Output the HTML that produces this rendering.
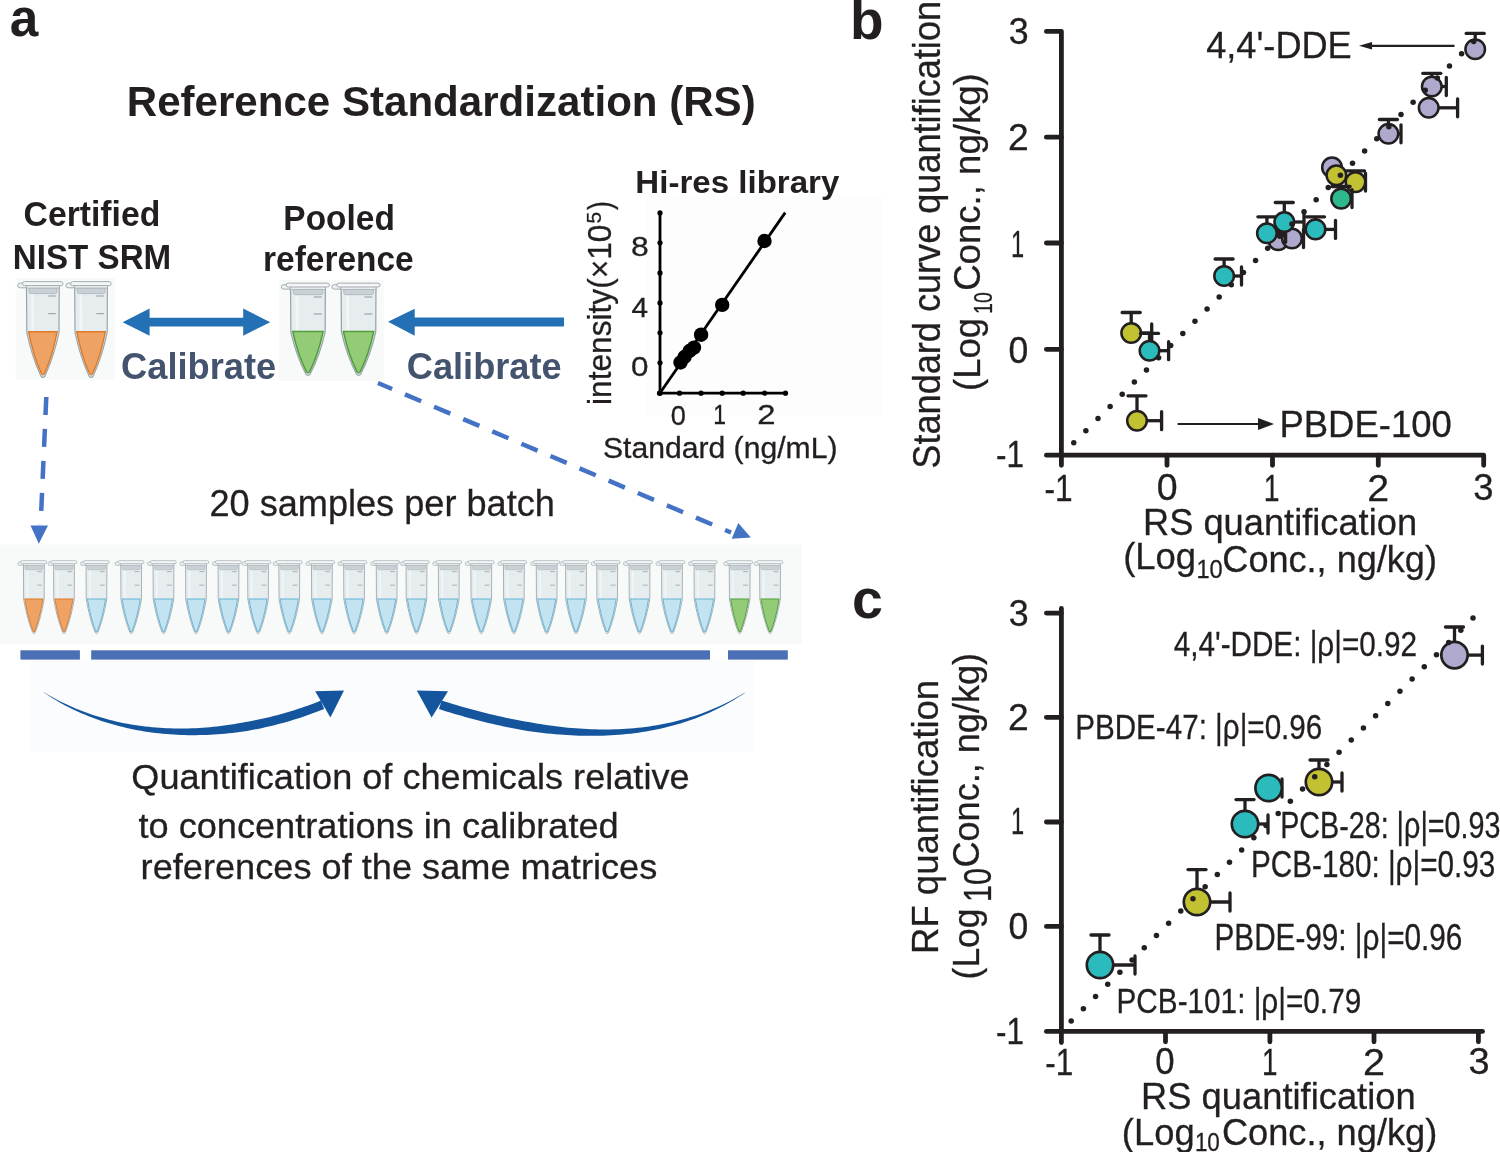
<!DOCTYPE html>
<html><head><meta charset="utf-8"><style>
html,body{margin:0;padding:0;background:#fff;}
body{width:1500px;height:1152px;overflow:hidden;}
svg{display:block;font-family:"Liberation Sans",sans-serif;font-kerning:none;will-change:transform;}
text{font-kerning:none;}
</style></head><body>
<svg width="1500" height="1152" viewBox="0 0 1500 1152">
<defs><g id="tO">
<path d="M9.3,5 L9.6,51 Q14.6,75.5 23.6,94.6 Q25.7,97.8 27.8,94.6 Q36.8,75.5 41.8,51 L42,5 Z" fill="#e7edef" stroke="#9aa5ab" stroke-width="1.2"/>
<path d="M14,12 L14.3,50 L17,50 L16.6,12Z" fill="#f1f5f6"/>
<path d="M11.4,50.6 L39.9,50.6 Q35.2,75 27.2,92.3 Q25.7,94.8 24.2,92.3 Q16.2,75 11.4,50.6 Z" fill="#eea264" stroke="#dd7a27" stroke-width="1.4"/>
<path d="M11.8,6.5 L39.7,6.5 L39.7,10.5 Q39.7,12.4 37.5,12.4 L14,12.4 Q11.8,12.4 11.8,10.5Z" fill="#c9d1d6" stroke="#a9b3b8" stroke-width="0.8"/>
<rect x="8.5" y="4" width="33.5" height="2.8" fill="#eef1f2" stroke="#a3adb2" stroke-width="0.8"/>
<rect x="0.6" y="2" width="9" height="4.6" rx="2.3" fill="#eef1f2" stroke="#9aa5ab" stroke-width="0.9"/>
<rect x="5.2" y="0.4" width="40.6" height="4" rx="2" fill="#f3f5f6" stroke="#9aa5ab" stroke-width="0.9"/>
<path d="M31,14.8 H38.6 M31,32.5 H38.6" stroke="#8d989e" stroke-width="1"/>
</g>
<g id="tG">
<path d="M9.3,5 L9.6,51 Q14.6,75.5 23.6,94.6 Q25.7,97.8 27.8,94.6 Q36.8,75.5 41.8,51 L42,5 Z" fill="#e7edef" stroke="#9aa5ab" stroke-width="1.2"/>
<path d="M14,12 L14.3,50 L17,50 L16.6,12Z" fill="#f1f5f6"/>
<path d="M11.4,50.6 L39.9,50.6 Q35.2,75 27.2,92.3 Q25.7,94.8 24.2,92.3 Q16.2,75 11.4,50.6 Z" fill="#93cb77" stroke="#4f9f3a" stroke-width="1.4"/>
<path d="M11.8,6.5 L39.7,6.5 L39.7,10.5 Q39.7,12.4 37.5,12.4 L14,12.4 Q11.8,12.4 11.8,10.5Z" fill="#c9d1d6" stroke="#a9b3b8" stroke-width="0.8"/>
<rect x="8.5" y="4" width="33.5" height="2.8" fill="#eef1f2" stroke="#a3adb2" stroke-width="0.8"/>
<rect x="0.6" y="2" width="9" height="4.6" rx="2.3" fill="#eef1f2" stroke="#9aa5ab" stroke-width="0.9"/>
<rect x="5.2" y="0.4" width="40.6" height="4" rx="2" fill="#f3f5f6" stroke="#9aa5ab" stroke-width="0.9"/>
<path d="M31,14.8 H38.6 M31,32.5 H38.6" stroke="#8d989e" stroke-width="1"/>
</g>
<g id="tB">
<path d="M9.3,5 L9.6,51 Q14.6,75.5 23.6,94.6 Q25.7,97.8 27.8,94.6 Q36.8,75.5 41.8,51 L42,5 Z" fill="#e7edef" stroke="#9aa5ab" stroke-width="1.2"/>
<path d="M14,12 L14.3,50 L17,50 L16.6,12Z" fill="#f1f5f6"/>
<path d="M11.4,50.6 L39.9,50.6 Q35.2,75 27.2,92.3 Q25.7,94.8 24.2,92.3 Q16.2,75 11.4,50.6 Z" fill="#c3e3f1" stroke="#62b6d6" stroke-width="1.4"/>
<path d="M11.8,6.5 L39.7,6.5 L39.7,10.5 Q39.7,12.4 37.5,12.4 L14,12.4 Q11.8,12.4 11.8,10.5Z" fill="#c9d1d6" stroke="#a9b3b8" stroke-width="0.8"/>
<rect x="8.5" y="4" width="33.5" height="2.8" fill="#eef1f2" stroke="#a3adb2" stroke-width="0.8"/>
<rect x="0.6" y="2" width="9" height="4.6" rx="2.3" fill="#eef1f2" stroke="#9aa5ab" stroke-width="0.9"/>
<rect x="5.2" y="0.4" width="40.6" height="4" rx="2" fill="#f3f5f6" stroke="#9aa5ab" stroke-width="0.9"/>
<path d="M31,14.8 H38.6 M31,32.5 H38.6" stroke="#8d989e" stroke-width="1"/>
</g></defs>
<rect width="1500" height="1152" fill="#fff"/>
<rect x="15.7" y="278" width="99.3" height="101.5" fill="#f8f9f9"/>
<rect x="278.8" y="280" width="105" height="101" fill="#f8f9f9"/>
<rect x="0" y="544.5" width="801.7" height="99.5" fill="#f8f9f9"/>
<rect x="30.7" y="660" width="724" height="92" fill="#fbfcfd"/>
<rect x="646.6" y="195.6" width="236" height="220" fill="#fdfdfd"/>
<text x="9.75" y="35.80" font-size="54.50" textLength="28.53" lengthAdjust="spacingAndGlyphs" font-weight="bold" fill="#231f20">a</text>
<text x="126.79" y="116.00" font-size="43.00" textLength="628.91" lengthAdjust="spacingAndGlyphs" font-weight="bold" fill="#231f20">Reference Standardization (RS)</text>
<text x="23.62" y="226.25" font-size="34.50" textLength="136.60" lengthAdjust="spacingAndGlyphs" font-weight="bold" fill="#231f20">Certified</text>
<text x="12.78" y="268.60" font-size="34.50" textLength="158.44" lengthAdjust="spacingAndGlyphs" font-weight="bold" fill="#231f20">NIST SRM</text>
<text x="283.36" y="229.50" font-size="34.20" textLength="111.54" lengthAdjust="spacingAndGlyphs" font-weight="bold" fill="#231f20">Pooled</text>
<text x="263.10" y="271.00" font-size="34.60" textLength="150.55" lengthAdjust="spacingAndGlyphs" font-weight="bold" fill="#231f20">reference</text>
<text x="121.11" y="378.80" font-size="36.50" textLength="155.13" lengthAdjust="spacingAndGlyphs" font-weight="bold" fill="#44546e">Calibrate</text>
<text x="406.82" y="378.80" font-size="36.50" textLength="154.82" lengthAdjust="spacingAndGlyphs" font-weight="bold" fill="#44546e">Calibrate</text>
<use href="#tO" transform="translate(17.20,281.20) scale(1.0000,1.0000)"/>
<use href="#tO" transform="translate(65.40,281.20) scale(1.0000,1.0000)"/>
<use href="#tG" transform="translate(280.63,282.77) scale(1.0650,0.9630)"/>
<use href="#tG" transform="translate(331.23,282.77) scale(1.0650,0.9630)"/>
<path d="M122.6,322.2 L149.6,308.6 L149.6,317.8 L243.2,317.8 L243.2,308.6 L270.2,322.2 L243.2,335.8 L243.2,326.6 L149.6,326.6 L149.6,335.8 Z" fill="#2470b5"/>
<path d="M388,321.8 L414.7,308.8 L414.7,317.4 L564,317.4 L564,326.5 L414.7,326.5 L414.7,335.7 Z" fill="#2470b5"/>
<text x="635.39" y="193.30" font-size="32.00" textLength="203.99" lengthAdjust="spacingAndGlyphs" font-weight="bold" fill="#231f20">Hi-res library</text>
<g stroke="#000" fill="#000">
<path d="M660,212.9 V393.2 H785.5" fill="none" stroke-width="2.8" stroke-linecap="round"/>
<circle cx="660" cy="212.9" r="2.6" stroke="none"/>
<circle cx="660" cy="242.8" r="2.6" stroke="none"/>
<circle cx="660" cy="272.9" r="2.6" stroke="none"/>
<circle cx="660" cy="302.9" r="2.6" stroke="none"/>
<circle cx="660" cy="332.8" r="2.6" stroke="none"/>
<circle cx="660" cy="362.8" r="2.6" stroke="none"/>
<circle cx="660" cy="393.2" r="2.6" stroke="none"/>
<circle cx="659.5" cy="393.2" r="2.6" stroke="none"/>
<circle cx="679.5" cy="393.2" r="2.6" stroke="none"/>
<circle cx="701.0" cy="393.2" r="2.6" stroke="none"/>
<circle cx="722.2" cy="393.2" r="2.6" stroke="none"/>
<circle cx="743.2" cy="393.2" r="2.6" stroke="none"/>
<circle cx="764.5" cy="393.2" r="2.6" stroke="none"/>
<circle cx="785.5" cy="393.2" r="2.6" stroke="none"/>
<path d="M660,393 L785.2,212.6" stroke-width="2.8" fill="none"/>
<circle cx="680.5" cy="362.5" r="7.2" stroke="none"/>
<circle cx="684.5" cy="357.0" r="7.2" stroke="none"/>
<circle cx="689.5" cy="351.0" r="7.2" stroke="none"/>
<circle cx="694.0" cy="347.6" r="7.2" stroke="none"/>
<circle cx="701.1" cy="334.7" r="7.2" stroke="none"/>
<circle cx="722.2" cy="304.9" r="7.2" stroke="none"/>
<circle cx="764.5" cy="241.0" r="7.2" stroke="none"/>
</g>
<text x="630.91" y="255.60" font-size="28.50" textLength="17.78" lengthAdjust="spacingAndGlyphs" fill="#231f20" stroke="#231f20" stroke-width="0.3">8</text>
<text x="631.62" y="316.60" font-size="28.50" textLength="16.56" lengthAdjust="spacingAndGlyphs" fill="#231f20" stroke="#231f20" stroke-width="0.3">4</text>
<text x="631.07" y="376.00" font-size="28.50" textLength="17.45" lengthAdjust="spacingAndGlyphs" fill="#231f20" stroke="#231f20" stroke-width="0.3">0</text>
<text x="670.74" y="424.50" font-size="28.50" textLength="15.12" lengthAdjust="spacingAndGlyphs" fill="#231f20" stroke="#231f20" stroke-width="0.3">0</text>
<text x="713.25" y="424.20" font-size="28.50" textLength="12.77" lengthAdjust="spacingAndGlyphs" fill="#231f20" stroke="#231f20" stroke-width="0.3">1</text>
<text x="757.34" y="424.20" font-size="28.50" textLength="18.31" lengthAdjust="spacingAndGlyphs" fill="#231f20" stroke="#231f20" stroke-width="0.3">2</text>
<text x="602.93" y="458.40" font-size="28.60" textLength="234.54" lengthAdjust="spacingAndGlyphs" fill="#231f20" stroke="#231f20" stroke-width="0.3">Standard (ng/mL)</text>
<g transform="translate(611.00,0) rotate(-90)">
<text x="-404.92" y="0.00" font-size="32.70" textLength="180.25" lengthAdjust="spacingAndGlyphs" fill="#231f20" stroke="#231f20" stroke-width="0.3">intensity(×10</text>
</g>
<g transform="translate(601.00,0) rotate(-90)">
<text x="-223.44" y="0.00" font-size="21.00" textLength="11.61" lengthAdjust="spacingAndGlyphs" fill="#231f20" stroke="#231f20" stroke-width="0.3">5</text>
</g>
<g transform="translate(611.00,0) rotate(-90)">
<text x="-209.95" y="0.00" font-size="32.70" textLength="8.79" lengthAdjust="spacingAndGlyphs" fill="#231f20" stroke="#231f20" stroke-width="0.3">)</text>
</g>
<path d="M46.3,397 L40.6,525" stroke="#4472c4" stroke-width="4.5" stroke-dasharray="18,14" fill="none"/>
<path d="M30.5,525.5 L48,525.5 L38.8,543.8 Z" fill="#4472c4"/>
<path d="M378,383 L731,532.5" stroke="#4472c4" stroke-width="4.5" stroke-dasharray="17.6,14" stroke-dashoffset="2.3" fill="none"/>
<path d="M750.8,537.5 L731.7,538.7 L738.3,523 Z" fill="#4472c4"/>
<text x="209.43" y="516.25" font-size="37.60" textLength="345.41" lengthAdjust="spacingAndGlyphs" fill="#231f20" stroke="#231f20" stroke-width="0.3">20 samples per batch</text>
<use href="#tO" transform="translate(17.53,560.35) scale(0.6370,0.7630)"/>
<use href="#tO" transform="translate(47.63,560.35) scale(0.6370,0.7630)"/>
<use href="#tB" transform="translate(80.13,560.35) scale(0.6370,0.7630)"/>
<use href="#tB" transform="translate(114.83,560.35) scale(0.6370,0.7630)"/>
<use href="#tB" transform="translate(147.13,560.35) scale(0.6370,0.7630)"/>
<use href="#tB" transform="translate(179.63,560.35) scale(0.6370,0.7630)"/>
<use href="#tB" transform="translate(212.13,560.35) scale(0.6370,0.7630)"/>
<use href="#tB" transform="translate(241.73,560.35) scale(0.6370,0.7630)"/>
<use href="#tB" transform="translate(272.93,560.35) scale(0.6370,0.7630)"/>
<use href="#tB" transform="translate(305.53,560.35) scale(0.6370,0.7630)"/>
<use href="#tB" transform="translate(337.73,560.35) scale(0.6370,0.7630)"/>
<use href="#tB" transform="translate(370.33,560.35) scale(0.6370,0.7630)"/>
<use href="#tB" transform="translate(400.13,560.35) scale(0.6370,0.7630)"/>
<use href="#tB" transform="translate(432.43,560.35) scale(0.6370,0.7630)"/>
<use href="#tB" transform="translate(464.93,560.35) scale(0.6370,0.7630)"/>
<use href="#tB" transform="translate(497.53,560.35) scale(0.6370,0.7630)"/>
<use href="#tB" transform="translate(530.33,560.35) scale(0.6370,0.7630)"/>
<use href="#tB" transform="translate(559.63,560.35) scale(0.6370,0.7630)"/>
<use href="#tB" transform="translate(590.83,560.35) scale(0.6370,0.7630)"/>
<use href="#tB" transform="translate(623.13,560.35) scale(0.6370,0.7630)"/>
<use href="#tB" transform="translate(655.63,560.35) scale(0.6370,0.7630)"/>
<use href="#tB" transform="translate(688.13,560.35) scale(0.6370,0.7630)"/>
<use href="#tG" transform="translate(723.33,560.35) scale(0.6370,0.7630)"/>
<use href="#tG" transform="translate(753.73,560.35) scale(0.6370,0.7630)"/>
<rect x="20.4" y="650.3" width="59.5" height="9.3" fill="#4a6fb5"/>
<rect x="91.2" y="650.3" width="618.8" height="9.3" fill="#4a6fb5"/>
<rect x="728.0" y="650.3" width="59.8" height="9.3" fill="#4a6fb5"/>
<path d="M43.82,692.53 L46.85,694.57 L49.92,696.55 L53.01,698.48 L56.13,700.35 L59.27,702.17 L62.44,703.94 L65.64,705.65 L68.86,707.32 L72.10,708.93 L75.36,710.49 L78.65,712.00 L81.96,713.46 L85.29,714.86 L88.64,716.22 L92.01,717.53 L95.40,718.79 L98.81,720.00 L102.23,721.16 L105.68,722.27 L109.14,723.33 L112.61,724.35 L116.10,725.32 L119.61,726.24 L123.13,727.11 L126.66,727.94 L130.21,728.72 L133.77,729.45 L137.34,730.14 L140.93,730.78 L144.52,731.38 L148.12,731.93 L151.74,732.44 L155.36,732.90 L158.99,733.32 L162.63,733.70 L166.27,734.03 L169.92,734.32 L173.58,734.56 L177.24,734.77 L180.91,734.93 L184.58,735.05 L188.26,735.13 L191.93,735.16 L195.61,735.16 L199.30,735.12 L202.98,735.03 L206.66,734.91 L210.35,734.74 L214.03,734.54 L217.71,734.30 L221.39,734.01 L225.07,733.70 L228.75,733.34 L232.42,732.94 L236.09,732.51 L239.75,732.04 L243.41,731.53 L247.05,730.96 L250.68,730.31 L254.31,729.62 L257.92,728.90 L261.53,728.15 L265.12,727.36 L268.71,726.53 L272.28,725.67 L275.85,724.78 L279.40,723.86 L282.93,722.90 L286.46,721.91 L289.97,720.89 L293.46,719.83 L296.94,718.75 L300.41,717.63 L303.86,716.49 L307.29,715.31 L310.70,714.10 L314.10,712.86 L317.48,711.60 L320.84,710.30 L324.16,708.98 L320.84,700.62 L317.56,701.92 L314.28,703.18 L310.98,704.42 L307.66,705.63 L304.33,706.81 L300.98,707.96 L297.61,709.08 L294.22,710.17 L290.82,711.23 L287.41,712.26 L283.98,713.26 L280.54,714.22 L277.09,715.16 L273.62,716.06 L270.14,716.93 L266.65,717.77 L263.15,718.57 L259.64,719.35 L256.12,720.08 L252.59,720.79 L249.06,721.46 L245.51,722.09 L241.97,722.73 L238.42,723.37 L234.86,723.97 L231.30,724.53 L227.73,725.06 L224.16,725.55 L220.58,726.01 L217.00,726.42 L213.41,726.81 L209.82,727.15 L206.22,727.45 L202.63,727.72 L199.03,727.95 L195.43,728.13 L191.83,728.28 L188.23,728.39 L184.63,728.46 L181.03,728.49 L177.43,728.48 L173.83,728.42 L170.24,728.33 L166.65,728.19 L163.06,728.01 L159.48,727.78 L155.90,727.52 L152.33,727.21 L148.76,726.86 L145.20,726.46 L141.65,726.02 L138.10,725.53 L134.56,725.00 L131.04,724.42 L127.51,723.80 L124.00,723.13 L120.50,722.41 L117.01,721.65 L113.53,720.84 L110.07,719.98 L106.61,719.08 L103.17,718.12 L99.74,717.12 L96.32,716.07 L92.92,714.97 L89.54,713.82 L86.17,712.61 L82.81,711.36 L79.47,710.06 L76.15,708.70 L72.85,707.30 L69.56,705.84 L66.30,704.33 L63.05,702.77 L59.82,701.15 L56.61,699.48 L53.42,697.76 L50.26,695.98 L47.11,694.15 L43.98,692.27 Z" fill="#14559e"/>
<path d="M344.00,690.40 L315.20,691.20 L330.40,717.60 Z" fill="#14559e"/>
<path d="M744.72,692.67 L741.23,694.76 L737.72,696.78 L734.20,698.74 L730.66,700.63 L727.10,702.45 L723.53,704.21 L719.94,705.89 L716.34,707.52 L712.72,709.08 L709.08,710.57 L705.43,712.01 L701.77,713.38 L698.09,714.69 L694.39,715.93 L690.69,717.12 L686.97,718.25 L683.24,719.32 L679.50,720.33 L675.75,721.29 L671.98,722.18 L668.21,723.03 L664.42,723.81 L660.63,724.55 L656.82,725.22 L653.01,725.85 L649.19,726.42 L645.36,726.95 L641.52,727.42 L637.68,727.84 L633.83,728.21 L629.97,728.53 L626.11,728.81 L622.24,729.03 L618.37,729.22 L614.49,729.35 L610.60,729.44 L606.72,729.48 L602.83,729.49 L598.93,729.44 L595.04,729.36 L591.14,729.23 L587.24,729.06 L583.34,728.86 L579.44,728.61 L575.53,728.32 L571.63,728.00 L567.73,727.63 L563.83,727.23 L559.93,726.80 L556.03,726.32 L552.14,725.82 L548.25,725.28 L544.36,724.70 L540.47,724.09 L536.59,723.45 L532.71,722.78 L528.84,722.08 L524.97,721.38 L521.09,720.69 L517.22,719.97 L513.36,719.22 L509.50,718.44 L505.65,717.64 L501.80,716.81 L497.97,715.96 L494.14,715.08 L490.32,714.17 L486.51,713.24 L482.71,712.29 L478.92,711.32 L475.14,710.33 L471.37,709.31 L467.61,708.27 L463.86,707.22 L460.13,706.14 L456.41,705.05 L452.70,703.94 L449.01,702.81 L445.33,701.67 L441.66,700.51 L438.94,709.09 L442.64,710.26 L446.36,711.42 L450.10,712.56 L453.85,713.68 L457.62,714.79 L461.40,715.87 L465.19,716.94 L469.00,717.99 L472.82,719.02 L476.65,720.03 L480.50,721.02 L484.35,721.98 L488.22,722.92 L492.10,723.84 L495.98,724.73 L499.88,725.60 L503.78,726.44 L507.69,727.26 L511.61,728.05 L515.54,728.81 L519.48,729.54 L523.42,730.24 L527.37,730.88 L531.34,731.45 L535.31,731.98 L539.28,732.49 L543.25,732.96 L547.23,733.40 L551.21,733.81 L555.19,734.18 L559.18,734.51 L563.16,734.81 L567.14,735.07 L571.13,735.30 L575.11,735.48 L579.09,735.63 L583.07,735.73 L587.04,735.80 L591.01,735.82 L594.98,735.80 L598.95,735.74 L602.91,735.64 L606.87,735.49 L610.82,735.29 L614.76,735.06 L618.70,734.77 L622.63,734.44 L626.55,734.06 L630.46,733.64 L634.37,733.16 L638.27,732.64 L642.15,732.06 L646.03,731.43 L649.90,730.76 L653.75,730.03 L657.59,729.25 L661.42,728.41 L665.24,727.52 L669.05,726.58 L672.84,725.58 L676.61,724.52 L680.37,723.41 L684.12,722.24 L687.85,721.01 L691.56,719.73 L695.25,718.38 L698.93,716.97 L702.59,715.51 L706.23,713.98 L709.85,712.39 L713.45,710.74 L717.04,709.02 L720.60,707.24 L724.14,705.40 L727.65,703.49 L731.15,701.51 L734.62,699.47 L738.06,697.36 L741.49,695.18 L744.88,692.93 Z" fill="#14559e"/>
<path d="M416.80,690.40 L448.00,691.20 L431.60,717.60 Z" fill="#14559e"/>
<text x="131.29" y="789.00" font-size="35.50" textLength="558.32" lengthAdjust="spacingAndGlyphs" fill="#231f20" stroke="#231f20" stroke-width="0.3">Quantification of chemicals relative</text>
<text x="138.45" y="838.00" font-size="35.50" textLength="480.28" lengthAdjust="spacingAndGlyphs" fill="#231f20" stroke="#231f20" stroke-width="0.3">to concentrations in calibrated</text>
<text x="140.60" y="879.00" font-size="35.50" textLength="516.71" lengthAdjust="spacingAndGlyphs" fill="#231f20" stroke="#231f20" stroke-width="0.3">references of the same matrices</text>
<g stroke="#231f20" stroke-width="4.8" stroke-linecap="round" stroke-linejoin="round" fill="none">
<path d="M1046.4,31.4 H1061.4 V465.3"/>
<path d="M1046.4,455.2 H1483.7 V465.3"/>
<path d="M1046.4,137.2 H1061.4"/>
<path d="M1046.4,243.0 H1061.4"/>
<path d="M1046.4,349.3 H1061.4"/>
<path d="M1167.0,455.2 V465.3"/>
<path d="M1272.5,455.2 V465.3"/>
<path d="M1378.3,455.2 V465.3"/>
</g>
<path d="M1475.2,49.3 V33.4" stroke="#231f20" stroke-width="3.3" fill="none"/>
<path d="M1466.2,33.4 H1484.2" stroke="#231f20" stroke-width="3.3" stroke-linecap="round" fill="none"/>
<circle cx="1475.2" cy="49.3" r="9.8" fill="#aea9cd" stroke="#231f20" stroke-width="2.5"/>
<path d="M1431.8,86.5 V73.3" stroke="#231f20" stroke-width="3.3" fill="none"/>
<path d="M1422.8,73.3 H1440.8" stroke="#231f20" stroke-width="3.3" stroke-linecap="round" fill="none"/>
<path d="M1431.8,86.5 H1446.3" stroke="#231f20" stroke-width="3.3" fill="none"/>
<path d="M1446.3,77.5 V95.5" stroke="#231f20" stroke-width="3.3" stroke-linecap="round" fill="none"/>
<circle cx="1431.8" cy="86.5" r="9.8" fill="#aea9cd" stroke="#231f20" stroke-width="2.5"/>
<path d="M1428.7,107.8 H1457.6" stroke="#231f20" stroke-width="3.3" fill="none"/>
<path d="M1457.6,98.8 V116.8" stroke="#231f20" stroke-width="3.3" stroke-linecap="round" fill="none"/>
<circle cx="1428.7" cy="107.8" r="9.8" fill="#aea9cd" stroke="#231f20" stroke-width="2.5"/>
<path d="M1388.4,133.8 V119.5" stroke="#231f20" stroke-width="3.3" fill="none"/>
<path d="M1379.4,119.5 H1397.4" stroke="#231f20" stroke-width="3.3" stroke-linecap="round" fill="none"/>
<path d="M1388.4,133.8 H1401.0" stroke="#231f20" stroke-width="3.3" fill="none"/>
<path d="M1401.0,124.8 V142.8" stroke="#231f20" stroke-width="3.3" stroke-linecap="round" fill="none"/>
<circle cx="1388.4" cy="133.8" r="9.8" fill="#aea9cd" stroke="#231f20" stroke-width="2.5"/>
<circle cx="1332.0" cy="167.4" r="9.8" fill="#aea9cd" stroke="#231f20" stroke-width="2.5"/>
<path d="M1355.5,182.1 V170.8" stroke="#231f20" stroke-width="3.3" fill="none"/>
<path d="M1346.5,170.8 H1364.5" stroke="#231f20" stroke-width="3.3" stroke-linecap="round" fill="none"/>
<path d="M1355.5,182.1 H1365.5" stroke="#231f20" stroke-width="3.3" fill="none"/>
<path d="M1365.5,173.1 V191.1" stroke="#231f20" stroke-width="3.3" stroke-linecap="round" fill="none"/>
<circle cx="1355.5" cy="182.1" r="9.8" fill="#c1c132" stroke="#231f20" stroke-width="2.5"/>
<circle cx="1336.4" cy="175.2" r="9.8" fill="#c1c132" stroke="#231f20" stroke-width="2.5"/>
<path d="M1341.1,198.6 V186.5" stroke="#231f20" stroke-width="3.3" fill="none"/>
<path d="M1332.1,186.5 H1350.1" stroke="#231f20" stroke-width="3.3" stroke-linecap="round" fill="none"/>
<path d="M1341.1,198.6 H1352.0" stroke="#231f20" stroke-width="3.3" fill="none"/>
<path d="M1352.0,189.6 V207.6" stroke="#231f20" stroke-width="3.3" stroke-linecap="round" fill="none"/>
<circle cx="1341.1" cy="198.6" r="9.8" fill="#2db88e" stroke="#231f20" stroke-width="2.5"/>
<circle cx="1278.2" cy="240.3" r="9.8" fill="#aea9cd" stroke="#231f20" stroke-width="2.5"/>
<path d="M1292.0,238.5 H1303.5" stroke="#231f20" stroke-width="3.3" fill="none"/>
<path d="M1303.5,229.5 V247.5" stroke="#231f20" stroke-width="3.3" stroke-linecap="round" fill="none"/>
<circle cx="1292.0" cy="238.5" r="9.8" fill="#aea9cd" stroke="#231f20" stroke-width="2.5"/>
<path d="M1266.9,233.3 V216.8" stroke="#231f20" stroke-width="3.3" fill="none"/>
<path d="M1257.9,216.8 H1275.9" stroke="#231f20" stroke-width="3.3" stroke-linecap="round" fill="none"/>
<path d="M1266.9,233.3 H1285.6" stroke="#231f20" stroke-width="3.3" fill="none"/>
<path d="M1285.6,224.3 V242.3" stroke="#231f20" stroke-width="3.3" stroke-linecap="round" fill="none"/>
<circle cx="1266.9" cy="233.3" r="9.8" fill="#2bbbbd" stroke="#231f20" stroke-width="2.5"/>
<path d="M1284.3,222.0 V202.5" stroke="#231f20" stroke-width="3.3" fill="none"/>
<path d="M1275.3,202.5 H1293.3" stroke="#231f20" stroke-width="3.3" stroke-linecap="round" fill="none"/>
<path d="M1284.3,222.0 H1304.0" stroke="#231f20" stroke-width="3.3" fill="none"/>
<path d="M1304.0,213.0 V231.0" stroke="#231f20" stroke-width="3.3" stroke-linecap="round" fill="none"/>
<circle cx="1284.3" cy="222.0" r="9.8" fill="#2bbbbd" stroke="#231f20" stroke-width="2.5"/>
<path d="M1315.5,229.4 V216.8" stroke="#231f20" stroke-width="3.3" fill="none"/>
<path d="M1306.5,216.8 H1324.5" stroke="#231f20" stroke-width="3.3" stroke-linecap="round" fill="none"/>
<path d="M1315.5,229.4 H1335.5" stroke="#231f20" stroke-width="3.3" fill="none"/>
<path d="M1335.5,220.4 V238.4" stroke="#231f20" stroke-width="3.3" stroke-linecap="round" fill="none"/>
<circle cx="1315.5" cy="229.4" r="9.8" fill="#2bbbbd" stroke="#231f20" stroke-width="2.5"/>
<path d="M1224.1,276.0 V259.0" stroke="#231f20" stroke-width="3.3" fill="none"/>
<path d="M1215.1,259.0 H1233.1" stroke="#231f20" stroke-width="3.3" stroke-linecap="round" fill="none"/>
<path d="M1224.1,276.0 H1241.5" stroke="#231f20" stroke-width="3.3" fill="none"/>
<path d="M1241.5,267.0 V285.0" stroke="#231f20" stroke-width="3.3" stroke-linecap="round" fill="none"/>
<circle cx="1224.1" cy="276.0" r="9.8" fill="#2bbbbd" stroke="#231f20" stroke-width="2.5"/>
<path d="M1131.2,333.0 V312.5" stroke="#231f20" stroke-width="3.3" fill="none"/>
<path d="M1122.2,312.5 H1140.2" stroke="#231f20" stroke-width="3.3" stroke-linecap="round" fill="none"/>
<path d="M1131.2,333.0 H1151.7" stroke="#231f20" stroke-width="3.3" fill="none"/>
<path d="M1151.7,324.0 V342.0" stroke="#231f20" stroke-width="3.3" stroke-linecap="round" fill="none"/>
<circle cx="1131.2" cy="333.0" r="9.8" fill="#c1c132" stroke="#231f20" stroke-width="2.5"/>
<path d="M1149.5,350.7 V333.4" stroke="#231f20" stroke-width="3.3" fill="none"/>
<path d="M1140.5,333.4 H1158.5" stroke="#231f20" stroke-width="3.3" stroke-linecap="round" fill="none"/>
<path d="M1149.5,350.7 H1168.6" stroke="#231f20" stroke-width="3.3" fill="none"/>
<path d="M1168.6,341.7 V359.7" stroke="#231f20" stroke-width="3.3" stroke-linecap="round" fill="none"/>
<circle cx="1149.5" cy="350.7" r="9.8" fill="#2bbbbd" stroke="#231f20" stroke-width="2.5"/>
<path d="M1137.0,420.7 V395.8" stroke="#231f20" stroke-width="3.3" fill="none"/>
<path d="M1128.0,395.8 H1146.0" stroke="#231f20" stroke-width="3.3" stroke-linecap="round" fill="none"/>
<path d="M1137.0,420.7 H1161.6" stroke="#231f20" stroke-width="3.3" fill="none"/>
<path d="M1161.6,411.7 V429.7" stroke="#231f20" stroke-width="3.3" stroke-linecap="round" fill="none"/>
<circle cx="1137.0" cy="420.7" r="9.8" fill="#c1c132" stroke="#231f20" stroke-width="2.5"/>
<circle cx="1073.75" cy="442.86" r="2.75" fill="#231f20"/>
<circle cx="1085.87" cy="430.70" r="2.75" fill="#231f20"/>
<circle cx="1097.99" cy="418.54" r="2.75" fill="#231f20"/>
<circle cx="1110.11" cy="406.38" r="2.75" fill="#231f20"/>
<circle cx="1122.23" cy="394.22" r="2.75" fill="#231f20"/>
<circle cx="1134.35" cy="382.06" r="2.75" fill="#231f20"/>
<circle cx="1146.47" cy="369.90" r="2.75" fill="#231f20"/>
<circle cx="1158.59" cy="357.74" r="2.75" fill="#231f20"/>
<circle cx="1170.71" cy="345.58" r="2.75" fill="#231f20"/>
<circle cx="1182.83" cy="333.42" r="2.75" fill="#231f20"/>
<circle cx="1194.95" cy="321.26" r="2.75" fill="#231f20"/>
<circle cx="1207.07" cy="309.10" r="2.75" fill="#231f20"/>
<circle cx="1219.19" cy="296.94" r="2.75" fill="#231f20"/>
<circle cx="1231.31" cy="284.78" r="2.75" fill="#231f20"/>
<circle cx="1243.43" cy="272.62" r="2.75" fill="#231f20"/>
<circle cx="1255.55" cy="260.46" r="2.75" fill="#231f20"/>
<circle cx="1267.67" cy="248.30" r="2.75" fill="#231f20"/>
<circle cx="1279.79" cy="236.14" r="2.75" fill="#231f20"/>
<circle cx="1291.91" cy="223.98" r="2.75" fill="#231f20"/>
<circle cx="1304.03" cy="211.82" r="2.75" fill="#231f20"/>
<circle cx="1316.15" cy="199.66" r="2.75" fill="#231f20"/>
<circle cx="1328.27" cy="187.50" r="2.75" fill="#231f20"/>
<circle cx="1340.39" cy="175.34" r="2.75" fill="#231f20"/>
<circle cx="1352.51" cy="163.18" r="2.75" fill="#231f20"/>
<circle cx="1364.63" cy="151.01" r="2.75" fill="#231f20"/>
<circle cx="1376.75" cy="138.85" r="2.75" fill="#231f20"/>
<circle cx="1388.87" cy="126.69" r="2.75" fill="#231f20"/>
<circle cx="1400.99" cy="114.53" r="2.75" fill="#231f20"/>
<circle cx="1413.11" cy="102.37" r="2.75" fill="#231f20"/>
<circle cx="1425.23" cy="90.21" r="2.75" fill="#231f20"/>
<circle cx="1437.35" cy="78.05" r="2.75" fill="#231f20"/>
<circle cx="1449.47" cy="65.89" r="2.75" fill="#231f20"/>
<circle cx="1461.59" cy="53.73" r="2.75" fill="#231f20"/>
<circle cx="1473.71" cy="41.57" r="2.75" fill="#231f20"/>
<path d="M1454.5,45.8 H1366" stroke="#231f20" stroke-width="2.2"/>
<path d="M1359,45.8 L1372,42 L1372,49.6 Z" fill="#231f20"/>
<text x="1206.17" y="57.80" font-size="37.50" textLength="145.58" lengthAdjust="spacingAndGlyphs" fill="#231f20" stroke="#231f20" stroke-width="0.3">4,4'-DDE</text>
<path d="M1177.6,424 H1262" stroke="#231f20" stroke-width="2.2"/>
<path d="M1274,424 L1258,418 L1258,430 Z" fill="#231f20"/>
<text x="1279.41" y="437.00" font-size="37.80" textLength="172.42" lengthAdjust="spacingAndGlyphs" fill="#231f20" stroke="#231f20" stroke-width="0.3">PBDE-100</text>
<text x="849.88" y="38.60" font-size="56.00" textLength="33.58" lengthAdjust="spacingAndGlyphs" font-weight="bold" fill="#231f20">b</text>
<text x="1008.63" y="44.00" font-size="37.50" textLength="19.94" lengthAdjust="spacingAndGlyphs" fill="#231f20" stroke="#231f20" stroke-width="0.3">3</text>
<text x="1008.12" y="150.00" font-size="37.50" textLength="20.75" lengthAdjust="spacingAndGlyphs" fill="#231f20" stroke="#231f20" stroke-width="0.3">2</text>
<text x="1011.00" y="256.50" font-size="37.50" textLength="13.16" lengthAdjust="spacingAndGlyphs" fill="#231f20" stroke="#231f20" stroke-width="0.3">1</text>
<text x="1008.61" y="362.50" font-size="37.50" textLength="19.78" lengthAdjust="spacingAndGlyphs" fill="#231f20" stroke="#231f20" stroke-width="0.3">0</text>
<text x="996.10" y="467.20" font-size="37.50" textLength="27.93" lengthAdjust="spacingAndGlyphs" fill="#231f20" stroke="#231f20" stroke-width="0.3">-1</text>
<text x="1044.59" y="500.80" font-size="37.50" textLength="28.15" lengthAdjust="spacingAndGlyphs" fill="#231f20" stroke="#231f20" stroke-width="0.3">-1</text>
<text x="1156.64" y="500.00" font-size="37.50" textLength="20.83" lengthAdjust="spacingAndGlyphs" fill="#231f20" stroke="#231f20" stroke-width="0.3">0</text>
<text x="1263.74" y="500.60" font-size="37.50" textLength="15.74" lengthAdjust="spacingAndGlyphs" fill="#231f20" stroke="#231f20" stroke-width="0.3">1</text>
<text x="1367.32" y="500.60" font-size="37.50" textLength="21.85" lengthAdjust="spacingAndGlyphs" fill="#231f20" stroke="#231f20" stroke-width="0.3">2</text>
<text x="1473.31" y="500.00" font-size="37.50" textLength="20.29" lengthAdjust="spacingAndGlyphs" fill="#231f20" stroke="#231f20" stroke-width="0.3">3</text>
<text x="1143.03" y="534.50" font-size="37.80" textLength="274.03" lengthAdjust="spacingAndGlyphs" fill="#231f20" stroke="#231f20" stroke-width="0.3">RS quantification</text>
<text x="1123.14" y="569.00" font-size="37.50" textLength="73.01" lengthAdjust="spacingAndGlyphs" fill="#231f20" stroke="#231f20" stroke-width="0.3">(Log</text>
<text x="1196.40" y="578.00" font-size="25.80" textLength="26.33" lengthAdjust="spacingAndGlyphs" fill="#231f20" stroke="#231f20" stroke-width="0.3">10</text>
<text x="1222.37" y="572.20" font-size="37.80" textLength="214.57" lengthAdjust="spacingAndGlyphs" fill="#231f20" stroke="#231f20" stroke-width="0.3">Conc., ng/kg)</text>
<g transform="translate(939.60,0) rotate(-90)">
<text x="-468.64" y="0.00" font-size="38.80" textLength="467.68" lengthAdjust="spacingAndGlyphs" fill="#231f20" stroke="#231f20" stroke-width="0.3">Standard curve quantification</text>
</g>
<g transform="translate(979.90,0) rotate(-90)">
<text x="-390.96" y="0.00" font-size="37.50" textLength="73.01" lengthAdjust="spacingAndGlyphs" fill="#231f20" stroke="#231f20" stroke-width="0.3">(Log</text>
</g>
<g transform="translate(991.90,0) rotate(-90)">
<text x="-313.99" y="0.00" font-size="25.80" textLength="21.75" lengthAdjust="spacingAndGlyphs" fill="#231f20" stroke="#231f20" stroke-width="0.3">10</text>
</g>
<g transform="translate(979.90,0) rotate(-90)">
<text x="-290.86" y="0.00" font-size="37.50" textLength="217.63" lengthAdjust="spacingAndGlyphs" fill="#231f20" stroke="#231f20" stroke-width="0.3">Conc., ng/kg)</text>
</g>
<g stroke="#231f20" stroke-width="4.8" stroke-linecap="round" stroke-linejoin="round" fill="none">
<path d="M1061.4,608.4 V1042.6"/>
<path d="M1046.4,1031.4 H1482.5"/>
<path d="M1046.4,613.1 H1061.4"/>
<path d="M1046.4,717.3 H1061.4"/>
<path d="M1046.4,822.0 H1061.4"/>
<path d="M1046.4,926.4 H1061.4"/>
<path d="M1165.5,1031.4 V1041.8"/>
<path d="M1269.9,1031.4 V1041.8"/>
<path d="M1374.0,1031.4 V1041.8"/>
<path d="M1478.4,1031.4 V1041.8"/>
</g>
<path d="M1454.5,655.1 V627.0" stroke="#231f20" stroke-width="3.3" fill="none"/>
<path d="M1445.5,627.0 H1463.5" stroke="#231f20" stroke-width="3.3" stroke-linecap="round" fill="none"/>
<path d="M1454.5,655.1 H1482.4" stroke="#231f20" stroke-width="3.3" fill="none"/>
<path d="M1482.4,646.1 V664.1" stroke="#231f20" stroke-width="3.3" stroke-linecap="round" fill="none"/>
<circle cx="1454.5" cy="655.1" r="13.2" fill="#aea9cd" stroke="#231f20" stroke-width="2.7"/>
<path d="M1319.0,782.0 V760.0" stroke="#231f20" stroke-width="3.3" fill="none"/>
<path d="M1310.0,760.0 H1328.0" stroke="#231f20" stroke-width="3.3" stroke-linecap="round" fill="none"/>
<path d="M1319.0,782.0 H1342.0" stroke="#231f20" stroke-width="3.3" fill="none"/>
<path d="M1342.0,773.0 V791.0" stroke="#231f20" stroke-width="3.3" stroke-linecap="round" fill="none"/>
<circle cx="1319.0" cy="782.0" r="13.2" fill="#c1c132" stroke="#231f20" stroke-width="2.7"/>
<path d="M1268.6,788.0 H1282.0" stroke="#231f20" stroke-width="3.3" fill="none"/>
<path d="M1282.0,779.0 V797.0" stroke="#231f20" stroke-width="3.3" stroke-linecap="round" fill="none"/>
<circle cx="1268.6" cy="788.0" r="13.2" fill="#2bbbbd" stroke="#231f20" stroke-width="2.7"/>
<path d="M1245.0,824.0 V799.6" stroke="#231f20" stroke-width="3.3" fill="none"/>
<path d="M1236.0,799.6 H1254.0" stroke="#231f20" stroke-width="3.3" stroke-linecap="round" fill="none"/>
<path d="M1245.0,824.0 H1268.0" stroke="#231f20" stroke-width="3.3" fill="none"/>
<path d="M1268.0,815.0 V833.0" stroke="#231f20" stroke-width="3.3" stroke-linecap="round" fill="none"/>
<circle cx="1245.0" cy="824.0" r="13.2" fill="#2bbbbd" stroke="#231f20" stroke-width="2.7"/>
<path d="M1197.0,902.0 V869.6" stroke="#231f20" stroke-width="3.3" fill="none"/>
<path d="M1188.0,869.6 H1206.0" stroke="#231f20" stroke-width="3.3" stroke-linecap="round" fill="none"/>
<path d="M1197.0,902.0 H1230.0" stroke="#231f20" stroke-width="3.3" fill="none"/>
<path d="M1230.0,893.0 V911.0" stroke="#231f20" stroke-width="3.3" stroke-linecap="round" fill="none"/>
<circle cx="1197.0" cy="902.0" r="13.2" fill="#c1c132" stroke="#231f20" stroke-width="2.7"/>
<path d="M1100.0,965.0 V935.0" stroke="#231f20" stroke-width="3.3" fill="none"/>
<path d="M1091.0,935.0 H1109.0" stroke="#231f20" stroke-width="3.3" stroke-linecap="round" fill="none"/>
<path d="M1100.0,965.0 H1135.0" stroke="#231f20" stroke-width="3.3" fill="none"/>
<path d="M1135.0,956.0 V974.0" stroke="#231f20" stroke-width="3.3" stroke-linecap="round" fill="none"/>
<circle cx="1100.0" cy="965.0" r="13.2" fill="#2bbbbd" stroke="#231f20" stroke-width="2.7"/>
<circle cx="1071.20" cy="1020.97" r="2.75" fill="#231f20"/>
<circle cx="1083.38" cy="1008.76" r="2.75" fill="#231f20"/>
<circle cx="1095.55" cy="996.55" r="2.75" fill="#231f20"/>
<circle cx="1107.73" cy="984.34" r="2.75" fill="#231f20"/>
<circle cx="1119.90" cy="972.13" r="2.75" fill="#231f20"/>
<circle cx="1132.08" cy="959.92" r="2.75" fill="#231f20"/>
<circle cx="1144.26" cy="947.71" r="2.75" fill="#231f20"/>
<circle cx="1156.43" cy="935.49" r="2.75" fill="#231f20"/>
<circle cx="1168.61" cy="923.28" r="2.75" fill="#231f20"/>
<circle cx="1180.78" cy="911.07" r="2.75" fill="#231f20"/>
<circle cx="1192.96" cy="898.86" r="2.75" fill="#231f20"/>
<circle cx="1205.14" cy="886.65" r="2.75" fill="#231f20"/>
<circle cx="1217.31" cy="874.44" r="2.75" fill="#231f20"/>
<circle cx="1229.49" cy="862.23" r="2.75" fill="#231f20"/>
<circle cx="1241.66" cy="850.02" r="2.75" fill="#231f20"/>
<circle cx="1253.84" cy="837.81" r="2.75" fill="#231f20"/>
<circle cx="1266.02" cy="825.59" r="2.75" fill="#231f20"/>
<circle cx="1278.19" cy="813.38" r="2.75" fill="#231f20"/>
<circle cx="1290.37" cy="801.17" r="2.75" fill="#231f20"/>
<circle cx="1302.54" cy="788.96" r="2.75" fill="#231f20"/>
<circle cx="1314.72" cy="776.75" r="2.75" fill="#231f20"/>
<circle cx="1326.90" cy="764.54" r="2.75" fill="#231f20"/>
<circle cx="1339.07" cy="752.33" r="2.75" fill="#231f20"/>
<circle cx="1351.25" cy="740.12" r="2.75" fill="#231f20"/>
<circle cx="1363.42" cy="727.91" r="2.75" fill="#231f20"/>
<circle cx="1375.60" cy="715.70" r="2.75" fill="#231f20"/>
<circle cx="1387.78" cy="703.48" r="2.75" fill="#231f20"/>
<circle cx="1399.95" cy="691.27" r="2.75" fill="#231f20"/>
<circle cx="1412.13" cy="679.06" r="2.75" fill="#231f20"/>
<circle cx="1424.30" cy="666.85" r="2.75" fill="#231f20"/>
<circle cx="1436.48" cy="654.64" r="2.75" fill="#231f20"/>
<circle cx="1448.66" cy="642.43" r="2.75" fill="#231f20"/>
<circle cx="1460.83" cy="630.22" r="2.75" fill="#231f20"/>
<circle cx="1473.01" cy="618.01" r="2.75" fill="#231f20"/>
<text x="852.03" y="618.00" font-size="55.50" textLength="30.90" lengthAdjust="spacingAndGlyphs" font-weight="bold" fill="#231f20">c</text>
<text x="1008.63" y="625.50" font-size="37.50" textLength="19.94" lengthAdjust="spacingAndGlyphs" fill="#231f20" stroke="#231f20" stroke-width="0.3">3</text>
<text x="1008.12" y="730.00" font-size="37.50" textLength="20.75" lengthAdjust="spacingAndGlyphs" fill="#231f20" stroke="#231f20" stroke-width="0.3">2</text>
<text x="1011.00" y="834.00" font-size="37.50" textLength="13.16" lengthAdjust="spacingAndGlyphs" fill="#231f20" stroke="#231f20" stroke-width="0.3">1</text>
<text x="1008.61" y="939.00" font-size="37.50" textLength="19.78" lengthAdjust="spacingAndGlyphs" fill="#231f20" stroke="#231f20" stroke-width="0.3">0</text>
<text x="996.10" y="1043.50" font-size="37.50" textLength="27.93" lengthAdjust="spacingAndGlyphs" fill="#231f20" stroke="#231f20" stroke-width="0.3">-1</text>
<text x="1045.30" y="1074.50" font-size="37.50" textLength="27.93" lengthAdjust="spacingAndGlyphs" fill="#231f20" stroke="#231f20" stroke-width="0.3">-1</text>
<text x="1155.34" y="1074.00" font-size="37.50" textLength="19.31" lengthAdjust="spacingAndGlyphs" fill="#231f20" stroke="#231f20" stroke-width="0.3">0</text>
<text x="1261.88" y="1074.50" font-size="37.50" textLength="15.48" lengthAdjust="spacingAndGlyphs" fill="#231f20" stroke="#231f20" stroke-width="0.3">1</text>
<text x="1363.01" y="1074.50" font-size="37.50" textLength="21.97" lengthAdjust="spacingAndGlyphs" fill="#231f20" stroke="#231f20" stroke-width="0.3">2</text>
<text x="1468.55" y="1074.00" font-size="37.50" textLength="21.11" lengthAdjust="spacingAndGlyphs" fill="#231f20" stroke="#231f20" stroke-width="0.3">3</text>
<text x="1141.02" y="1109.00" font-size="37.80" textLength="274.64" lengthAdjust="spacingAndGlyphs" fill="#231f20" stroke="#231f20" stroke-width="0.3">RS quantification</text>
<text x="1121.84" y="1144.50" font-size="37.50" textLength="72.80" lengthAdjust="spacingAndGlyphs" fill="#231f20" stroke="#231f20" stroke-width="0.3">(Log</text>
<text x="1194.89" y="1151.20" font-size="25.20" textLength="24.99" lengthAdjust="spacingAndGlyphs" fill="#231f20" stroke="#231f20" stroke-width="0.3">10</text>
<text x="1221.96" y="1144.60" font-size="37.80" textLength="215.28" lengthAdjust="spacingAndGlyphs" fill="#231f20" stroke="#231f20" stroke-width="0.3">Conc., ng/kg)</text>
<g transform="translate(938.30,0) rotate(-90)">
<text x="-954.00" y="0.00" font-size="37.50" textLength="274.17" lengthAdjust="spacingAndGlyphs" fill="#231f20" stroke="#231f20" stroke-width="0.3">RF quantification</text>
</g>
<g transform="translate(978.90,0) rotate(-90)">
<text x="-979.40" y="0.00" font-size="37.50" textLength="70.88" lengthAdjust="spacingAndGlyphs" fill="#231f20" stroke="#231f20" stroke-width="0.3">(Log</text>
</g>
<g transform="translate(990.70,0) rotate(-90)">
<text x="-902.01" y="0.00" font-size="38.00" textLength="33.80" lengthAdjust="spacingAndGlyphs" fill="#231f20" stroke="#231f20" stroke-width="0.3">10</text>
</g>
<g transform="translate(978.90,0) rotate(-90)">
<text x="-867.53" y="0.00" font-size="37.50" textLength="214.57" lengthAdjust="spacingAndGlyphs" fill="#231f20" stroke="#231f20" stroke-width="0.3">Conc., ng/kg)</text>
</g>
<text x="1173.72" y="655.70" font-size="34.50" textLength="243.27" lengthAdjust="spacingAndGlyphs" fill="#231f20" stroke="#231f20" stroke-width="0.3">4,4'-DDE: |ρ|=0.92</text>
<text x="1075.17" y="738.50" font-size="34.50" textLength="247.13" lengthAdjust="spacingAndGlyphs" fill="#231f20" stroke="#231f20" stroke-width="0.3">PBDE-47: |ρ|=0.96</text>
<text x="1280.15" y="837.80" font-size="36.00" textLength="220.32" lengthAdjust="spacingAndGlyphs" fill="#231f20" stroke="#231f20" stroke-width="0.3">PCB-28: |ρ|=0.93</text>
<text x="1250.97" y="877.30" font-size="36.00" textLength="244.34" lengthAdjust="spacingAndGlyphs" fill="#231f20" stroke="#231f20" stroke-width="0.3">PCB-180: |ρ|=0.93</text>
<text x="1214.56" y="950.00" font-size="36.00" textLength="247.74" lengthAdjust="spacingAndGlyphs" fill="#231f20" stroke="#231f20" stroke-width="0.3">PBDE-99: |ρ|=0.96</text>
<text x="1116.56" y="1013.30" font-size="34.50" textLength="244.65" lengthAdjust="spacingAndGlyphs" fill="#231f20" stroke="#231f20" stroke-width="0.3">PCB-101: |ρ|=0.79</text>
</svg></body></html>
